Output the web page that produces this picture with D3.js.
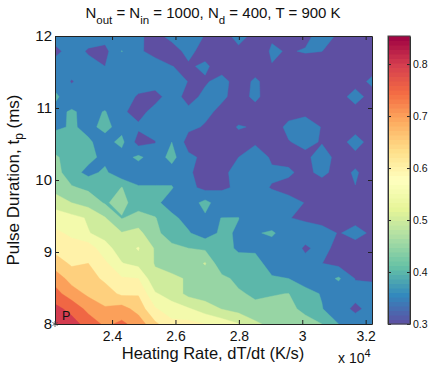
<!DOCTYPE html>
<html>
<head>
<meta charset="utf-8">
<script src="https://cdn.jsdelivr.net/npm/d3@7"></script>
<style>
  html, body { margin: 0; background: #fff; }
  text { font-family: "Liberation Sans", Arial, sans-serif; fill: #111; }
</style>
</head>
<body>
<svg id="chart" width="432" height="366"></svg>
<script>
// heating rate axis, in units of 10^4 K/s
const rateRange = [2.22, 3.22];
const rateTicks = [2.4, 2.6, 2.8, 3, 3.2];
// pulse duration axis, ms
const pulseRange = [8, 12];
const pulseTicks = [8, 9, 10, 11, 12];
// contour levels and colorbar
const levels = [0.3, 0.35, 0.4, 0.45, 0.5, 0.55, 0.6, 0.65, 0.7, 0.75, 0.8];
const colorRange = [0.3, 0.854];
const colorTicks = [0.3, 0.4, 0.5, 0.6, 0.7, 0.8];
const pointP = { rate: 2.22, pulse: 8, label: 'P' };

// values x100, 20 heating rates across, 20 pulse durations from 12 ms down to 8 ms
const gridRows = [
  [37, 37, 37, 37, 35.05, 35.5, 34, 36, 37, 34.8, 33.5, 36.2, 34, 34.5, 33, 34, 36.5, 34.5, 33, 33],
  [33.7, 37, 34.5, 33.5, 40.2, 35.7, 33.5, 33.5, 36, 33.5, 33, 34.2, 32.5, 35.5, 34.7, 35.3, 35.05, 33, 33, 33],
  [37, 37, 36.5, 35, 37, 37, 37, 35.05, 34.5, 35.7, 33, 33, 33, 34.85, 33, 33, 33, 33, 33, 33],
  [38, 34.7, 37, 37, 37, 37, 37, 36.5, 34.9, 34.5, 36.5, 33, 35.7, 33, 33, 33, 33, 33, 33, 36],
  [41, 37, 37, 37, 37, 34.5, 33.5, 37, 33.5, 36, 35.7, 33.5, 35.8, 33, 33, 33, 33, 33, 37, 33],
  [38.5, 40.6, 38.5, 40.3, 35.7, 33.5, 36.5, 37, 36, 36, 34, 33, 33.5, 33, 33.5, 33.5, 33, 33, 33, 33],
  [39, 40.5, 39, 41, 38.5, 35.7, 37, 38, 36, 34.6, 33.2, 35.3, 34.65, 33, 36, 38, 34.7, 33, 33, 33],
  [43, 43, 40.5, 38.5, 41.2, 33, 34.8, 40, 33, 33.5, 33.5, 33.5, 34.5, 33, 34.8, 36, 34.7, 33, 37, 33],
  [45.5, 43.5, 41.5, 38.5, 38, 41, 37.5, 41.5, 36, 34, 34, 35, 37, 34.5, 34, 34, 37, 33.5, 33.5, 33],
  [47, 42, 38.5, 41, 36, 37, 37, 38, 35.5, 33.5, 34, 36.5, 37, 35.5, 35.5, 34, 36, 33.5, 35.5, 33],
  [48, 45.5, 44, 40.5, 45.2, 40.5, 40.5, 40.3, 36.5, 33.5, 34.5, 35.5, 36, 34.8, 34, 33, 33, 33, 34.9, 33],
  [53, 50, 48, 44.5, 46.5, 42.5, 41, 38, 37.5, 41.5, 37, 37, 36.5, 36.5, 36, 34.9, 33, 33, 33, 33],
  [57.5, 56.5, 54.5, 50.3, 44.7, 47, 45.3, 41, 38.5, 39.3, 40.05, 40.1, 37, 36, 35.1, 34.5, 33.5, 33, 34, 33],
  [61, 59, 55.2, 53.5, 50.3, 51.5, 46, 43, 40.4, 37.5, 41, 39.4, 39.5, 40.8, 37, 36.5, 36.5, 34.8, 36, 34.5],
  [63.5, 62, 63, 56.5, 53, 55.3, 49.5, 46, 45, 44.1, 42, 39.2, 39.5, 37.5, 37, 34.5, 36, 34, 33.7, 34],
  [67.5, 64.2, 65, 61, 55.2, 53.5, 49.7, 48, 47, 50.4, 41, 42, 41, 38.8, 37.5, 36, 35.05, 33.5, 33.5, 33.5],
  [73, 68, 67, 64, 60.5, 60, 51, 51, 49.5, 47, 46.5, 43.5, 42.5, 40.3, 40, 38, 37.5, 40.7, 34.8, 34.7],
  [76.8, 72.4, 69, 67.4, 64, 64.5, 55.5, 53, 48.5, 47.5, 47.5, 45.8, 44, 44.7, 45.1, 41.5, 39.7, 36.5, 36.5, 36],
  [81.5, 78.4, 73.5, 70.5, 72, 68, 60.5, 57, 55.5, 52.5, 49.8, 48, 46.5, 46.5, 46, 44, 40.2, 37, 34, 36.5],
  [85, 82, 78, 74, 76, 73, 66, 61.5, 61.5, 60, 58, 55.3, 51, 48.5, 48.5, 46.5, 45, 40, 37.5, 37]
];

const plot = { left: 55, right: 372, top: 36, bottom: 324 };
const bar = { left: 388, right: 410 };

const svg = d3.select('#chart');

const xscale = d3.scaleLinear().domain(rateRange).range([plot.left, plot.right]);
const yscale = d3.scaleLinear().domain(pulseRange).range([plot.bottom, plot.top]);
const cscale = d3.scaleLinear().domain(colorRange).range([plot.bottom, plot.top]);

// spectral map flipped, purple low and crimson high
const spectral = d3.piecewise(d3.interpolateRgb, d3.schemeSpectral[11].slice().reverse());
const colorOf = v => spectral((v - colorRange[0]) / (colorRange[1] - colorRange[0]));

const nx = gridRows[0].length;
const ny = gridRows.length;
const rateAt = d3.scaleLinear().domain([0, nx - 1]).range(rateRange);
const pulseAt = d3.scaleLinear().domain([0, ny - 1]).range([pulseRange[1], pulseRange[0]]);

// copy the border out by one cell so the bands run to the axes
const padded = [];
for (let j = -1; j <= ny; j++) {
    const row = gridRows[Math.max(0, Math.min(ny - 1, j))];
    for (let i = -1; i <= nx; i++) {
        padded.push(row[Math.max(0, Math.min(nx - 1, i))] / 100);
    }
}

const contours = d3.contours().size([nx + 2, ny + 2]).thresholds(levels)(padded);

const project = d3.geoTransform({
    point: function (cx, cy) {
        this.stream.point(xscale(rateAt(cx - 1.5)), yscale(pulseAt(cy - 1.5)));
    }
});

svg.append('clipPath').attr('id', 'plot-clip').append('rect')
    .attr('x', plot.left).attr('y', plot.top)
    .attr('width', plot.right - plot.left).attr('height', plot.bottom - plot.top);

svg.append('g').attr('clip-path', 'url(#plot-clip)')
    .selectAll('path')
    .data(contours)
    .join('path')
    .attr('d', d3.geoPath(project))
    .attr('fill', d => colorOf(d.value))
    .attr('stroke', d => colorOf(d.value))
    .attr('stroke-width', 0.4);

// axes, ticks point inward
function styleAxis(g, size) {
    g.select('.domain').attr('stroke', '#222').attr('stroke-width', 1);
    g.selectAll('.tick line').attr('stroke', '#222');
    g.selectAll('.tick text').style('font-size', size + 'px').attr('fill', '#111');
}

svg.append('g').attr('transform', `translate(0,${plot.bottom})`)
    .call(d3.axisBottom(xscale).tickValues(rateTicks).tickFormat(d3.format('~g')).tickSizeInner(-4).tickSizeOuter(0).tickPadding(7))
    .call(styleAxis, 14);
svg.append('g').attr('transform', `translate(0,${plot.top})`)
    .call(d3.axisTop(xscale).tickValues(rateTicks).tickFormat('').tickSizeInner(-4).tickSizeOuter(0))
    .call(styleAxis, 14);
svg.append('g').attr('transform', `translate(${plot.left},0)`)
    .call(d3.axisLeft(yscale).tickValues(pulseTicks).tickFormat(d3.format('d')).tickSizeInner(-4).tickSizeOuter(0).tickPadding(3))
    .call(styleAxis, 15);
svg.append('g').attr('transform', `translate(${plot.right},0)`)
    .call(d3.axisRight(yscale).tickValues(pulseTicks).tickFormat('').tickSizeInner(-4).tickSizeOuter(0))
    .call(styleAxis, 14);

// marked point
svg.append('text').attr('x', xscale(pointP.rate) + 7).attr('y', yscale(pointP.pulse) - 4)
    .style('font-size', '12.5px').text(pointP.label);
svg.append('path')
    .attr('transform', `translate(${xscale(pointP.rate)},${yscale(pointP.pulse)})`)
    .attr('d', d3.symbol(d3.symbolAsterisk, 24))
    .attr('fill', 'none')
    .attr('stroke', '#444')
    .attr('stroke-width', 0.8);

// colorbar
const stripes = d3.range(64).map(k => colorRange[0] + (colorRange[1] - colorRange[0]) * k / 64);
const stripeH = (plot.bottom - plot.top) / 64;
svg.append('g').selectAll('rect')
    .data(stripes)
    .join('rect')
    .attr('x', bar.left)
    .attr('y', d => cscale(d) - stripeH)
    .attr('width', bar.right - bar.left)
    .attr('height', stripeH + 0.5)
    .attr('fill', d => colorOf(d + (colorRange[1] - colorRange[0]) / 128));

svg.append('g').attr('transform', `translate(${bar.right},0)`)
    .call(d3.axisRight(cscale).tickValues(colorTicks).tickFormat(d3.format('.1f')).tickSizeInner(-3).tickSizeOuter(0).tickPadding(3))
    .call(styleAxis, 10.5);
svg.append('g').attr('transform', `translate(${bar.left},0)`)
    .call(d3.axisLeft(cscale).tickValues(colorTicks).tickFormat('').tickSizeInner(-3).tickSizeOuter(0))
    .call(styleAxis, 10.5);
svg.append('rect')
    .attr('x', bar.left).attr('y', plot.top)
    .attr('width', bar.right - bar.left).attr('height', plot.bottom - plot.top)
    .attr('fill', 'none').attr('stroke', '#444').attr('stroke-width', 1);

// title with subscripts
const title = svg.append('text').attr('x', 213).attr('y', 18).attr('text-anchor', 'middle').style('font-size', '15px');
[['N', 0], ['out', 1], [' = N', 0], ['in', 1], [' = 1000, N', 0], ['d', 1], [' = 400, T = 900 K', 0]].forEach(([s, sub], k, all) => {
    const prevSub = k > 0 ? all[k - 1][1] : 0;
    title.append('tspan')
        .attr('dy', (sub - prevSub) * 6)
        .style('font-size', sub ? '11.5px' : '15px')
        .text(s);
});

svg.append('text').attr('x', 213).attr('y', 359).attr('text-anchor', 'middle')
    .style('font-size', '16.5px').text('Heating Rate, dT/dt (K/s)');

const ylabel = svg.append('text').attr('transform', 'translate(19,180) rotate(-90)')
    .attr('text-anchor', 'middle').style('font-size', '17px');
ylabel.append('tspan').text('Pulse Duration, t');
ylabel.append('tspan').attr('dy', 4).style('font-size', '12px').text('p');
ylabel.append('tspan').attr('dy', -4).text(' (ms)');

const mult = svg.append('text').attr('x', 338).attr('y', 363).style('font-size', '14px');
mult.append('tspan').text('x 10');
mult.append('tspan').attr('dy', -6).style('font-size', '11px').text('4');
</script>
</body>
</html>
